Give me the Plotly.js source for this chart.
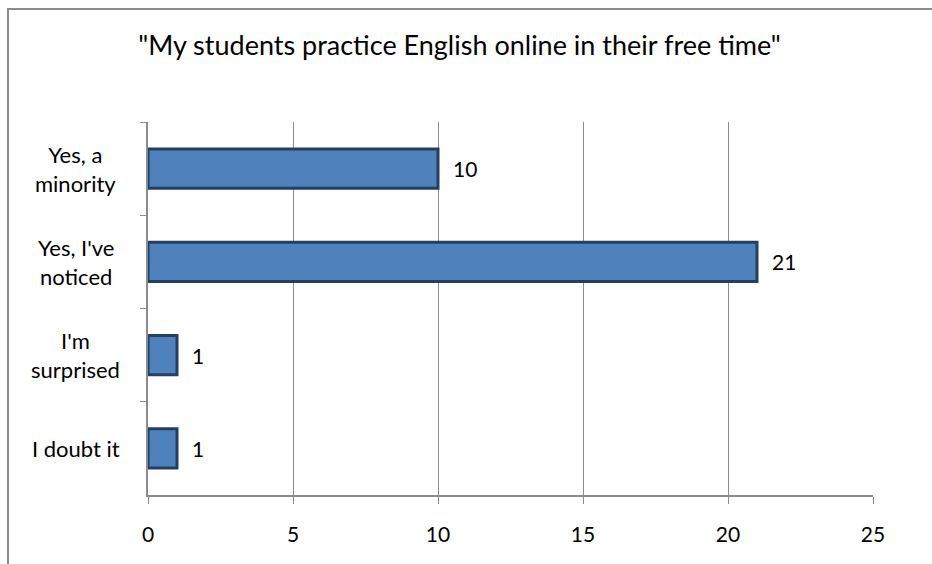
<!DOCTYPE html>
<html>
<head>
<meta charset="utf-8">
<script src="https://cdn.plot.ly/plotly-3.0.1.min.js"></script>
<style>
  html, body { margin: 0; padding: 0; background: #fff; }
  #wrap { position: relative; width: 932px; height: 564px; }
  #chart { width: 932px; height: 564px; }
  #frame { position: absolute; left: 7px; top: 8px; width: 940px; height: 570px;
           border-left: 2px solid #8c8c8c; border-top: 2px solid #8c8c8c; pointer-events: none; }
</style>
</head>
<body>
<div id="wrap">
  <div id="chart"></div>
  <div id="frame"></div>
</div>
<script>
var categories = ["Yes, a<br>minority", "Yes, I've<br>noticed", "I'm<br>surprised", "I doubt it"];
var counts = [10, 21, 1, 1];
var xTicks = [0, 5, 10, 15, 20, 25];
var titleText = '"My students practice English online in their free time"';

var FONT = "Lato, 'Open Sans', sans-serif";

var trace = {
  type: "bar",
  orientation: "h",
  y: categories,
  x: counts,
  marker: { color: "#4f81bd", line: { color: "#243f60", width: 3 } },
  hoverinfo: "none"
};

var annotations = [];
categories.forEach(function (c, i) {
  annotations.push({
    xref: "paper", yref: "y", x: -0.1, y: c, text: c,
    xanchor: "center", yanchor: "middle", align: "center", showarrow: false,
    font: { family: FONT, size: 22, color: "#000" }
  });
  annotations.push({
    xref: "x", yref: "y", x: counts[i], y: c, text: String(counts[i]),
    xanchor: "left", yanchor: "middle", xshift: 13, showarrow: false,
    font: { family: FONT, size: 21, color: "#000" }
  });
});

var layout = {
  width: 932, height: 564,
  margin: { l: 148, r: 59, t: 122, b: 69, pad: 0 },
  paper_bgcolor: "#fff", plot_bgcolor: "#fff",
  showlegend: false,
  bargap: 0.58,
  title: { text: titleText, x: 0.493, xanchor: "center", y: 0.92, yanchor: "middle",
           font: { family: FONT, size: 27, color: "#000" } },
  xaxis: {
    range: [0, 25], tickvals: xTicks, ticktext: xTicks.map(String),
    showgrid: true, gridcolor: "#8c8c8c", gridwidth: 1,
    zeroline: false, showline: true, linecolor: "#8c8c8c", linewidth: 2,
    ticks: "outside", ticklen: 7, tickcolor: "#8c8c8c", tickwidth: 1,
    ticklabelstandoff: 13,
    tickfont: { family: FONT, size: 21, color: "#000" }, fixedrange: true
  },
  yaxis: {
    type: "category", range: [3.5, -0.5],
    showgrid: false, zeroline: false, showline: true, linecolor: "#8c8c8c", linewidth: 2,
    ticks: "outside", tickson: "boundaries", ticklen: 6, tickcolor: "#8c8c8c", tickwidth: 1,
    showticklabels: false, fixedrange: true
  },
  annotations: annotations
};

Plotly.newPlot("chart", [trace], layout, { displayModeBar: false, staticPlot: true });
</script>
</body>
</html>
